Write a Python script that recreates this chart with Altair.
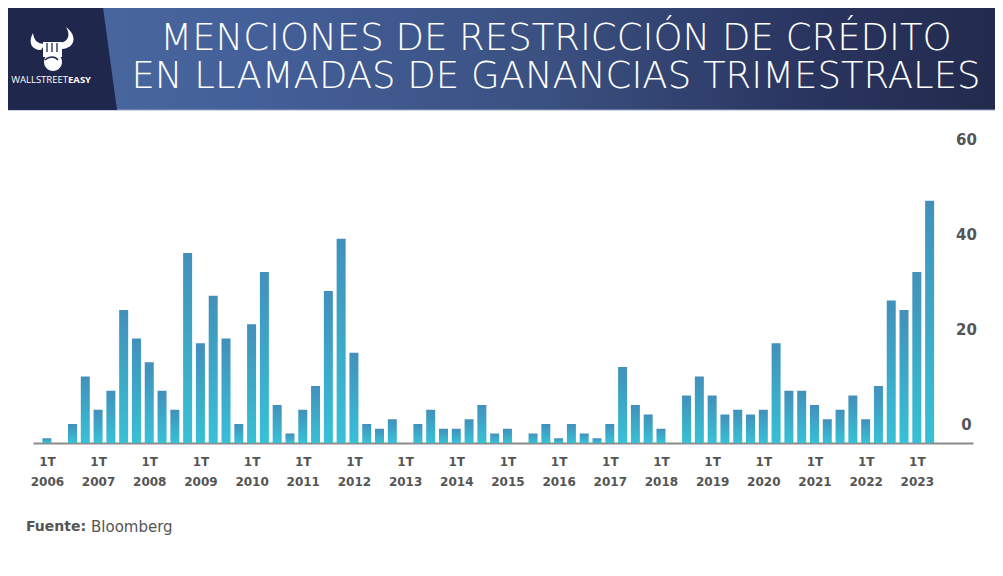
import altair as alt
import pandas as pd

# ---- data ----
years = list(range(2006, 2024))
quarters = ["1T", "2T", "3T", "4T"]
mentions = [
    1, 0, 4, 14,      # 2006
    7, 11, 28, 22,    # 2007
    17, 11, 7, 40,    # 2008
    21, 31, 22, 4,    # 2009
    25, 36, 8, 2,     # 2010
    7, 12, 32, 43,    # 2011
    19, 4, 3, 5,      # 2012
    0, 4, 7, 3,       # 2013
    3, 5, 8, 2,       # 2014
    3, 0, 2, 4,       # 2015
    1, 4, 2, 1,       # 2016
    4, 16, 8, 6,      # 2017
    3, 0, 10, 14,     # 2018
    10, 6, 7, 6,      # 2019
    7, 21, 11, 11,    # 2020
    8, 5, 7, 10,      # 2021
    5, 12, 30, 28,    # 2022
    36, 51,           # 2023
]
y_ticks = [0, 20, 40, 60]
title_lines = ["MENCIONES DE RESTRICCIÓN DE CRÉDITO",
               "EN LLAMADAS DE GANANCIAS TRIMESTRALES"]

rows = []
i = 0
for yr in years:
    for qi, q in enumerate(quarters):
        if i < len(mentions):
            rows.append({"t": yr + qi / 4.0, "year": yr, "q": q, "v": mentions[i]})
            i += 1
df = pd.DataFrame(rows)
one = pd.DataFrame({"a": [0]})

W, H = 940, 285
PADL, PADT = 25, 150

def px(x):  # original-page x -> plot x
    return x - 8 - PADL

def py(y):  # original-page y -> plot y
    return y - 8 - PADT

bar_grad = alt.Gradient(
    gradient="linear",
    stops=[alt.GradientStop(color="#4290bb", offset=0),
           alt.GradientStop(color="#37c1d6", offset=1)],
    x1=0, x2=0, y1=0, y2=1)

bars = alt.Chart(df).transform_filter("datum.v > 0").mark_bar(size=9, color=bar_grad).encode(
    x=alt.X("t:Q",
            scale=alt.Scale(domain=[2005.826, 2024.0], nice=False, zero=False),
            axis=alt.Axis(values=years, title=None, grid=False, ticks=False, tickSize=0,
                          labelExpr="['1T', format(datum.value, 'd')]",
                          labelFont="DejaVu Sans", labelFontWeight="bold", labelFontSize=12,
                          labelColor="#555555", labelLineHeight=20, labelPadding=13,
                          labelBaseline="top", labelFlush=False, labelOverlap=False,
                          domainColor="#8c8c8c", domainWidth=2)),
    y=alt.Y("v:Q",
            scale=alt.Scale(domain=[0, 60], nice=False),
            axis=alt.Axis(orient="right", values=y_ticks, title=None, grid=False,
                          ticks=False, tickSize=0, domain=False,
                          labelFont="DejaVu Sans", labelFontWeight="bold", labelFontSize=15,
                          labelColor="#555555", labelAlign="center", labelPadding=-7,
                          labelOffset=-19, labelFlush=False)),
)

banner_grad = alt.Gradient(
    gradient="linear",
    stops=[alt.GradientStop(color="#4b6aa0", offset=0.0),
           alt.GradientStop(color="#44609a", offset=0.25),
           alt.GradientStop(color="#3a5080", offset=0.55),
           alt.GradientStop(color="#2a3560", offset=0.8),
           alt.GradientStop(color="#222a4c", offset=1.0)],
    x1=0, x2=1, y1=0, y2=0)

banner = alt.Chart(one).mark_rect(color=banner_grad).encode(
    x=alt.value(px(0)), x2=alt.value(px(1003)),
    y=alt.value(py(0)), y2=alt.value(py(110)))

banner_line = alt.Chart(one).mark_rule(color="#9aa8c4", strokeWidth=1).encode(
    x=alt.value(px(0)), x2=alt.value(px(1003)), y=alt.value(py(110)))

def shape_layer(path, color):
    return alt.Chart(one).mark_point(shape=path, size=4, filled=True, opacity=1,
                                     color=color, strokeWidth=0).encode(
        x=alt.value(px(0)), y=alt.value(py(0)))

dark_block = shape_layer("M0,0 L102,0 L117,110 L0,110 Z", "#1f284c")
horn_l = shape_layer("M41,50 C31,50 28,42 33,33 C34,40 37,44 45,44 Z", "#ffffff")
horn_r = shape_layer("M62,49 C75,48 78,36 66,27 C71,35 68,42 60,43 Z", "#ffffff")
fist = shape_layer("M43,42 L62,42 L62,57 L43,57 Z", "#ffffff")
fist_c = shape_layer("M44,62 A9,9 0 1,0 62,62 A9,9 0 1,0 44,62 Z", "#ffffff")
fist_lines = alt.Chart(one).mark_point(
    shape="M47,43 L47,52 M52,43 L52,52 M57,43 L57,52 M45,60 C49,56 55,56 58,60",
    size=4, filled=False, opacity=1, color="#1f284c", strokeWidth=1.3).encode(
    x=alt.value(px(0)), y=alt.value(py(0)))

logo_t1 = alt.Chart(one).mark_text(text="WALLSTREET", font="Open Sans", fontSize=9.5,
                                   color="white", align="right", baseline="middle").encode(
    x=alt.value(px(68)), y=alt.value(py(80)))
logo_t2 = alt.Chart(one).mark_text(text="EASY", font="Open Sans", fontSize=9.5, fontWeight="bold",
                                   color="white", align="left", baseline="middle").encode(
    x=alt.value(px(68)), y=alt.value(py(80)))

title = alt.Chart(one).mark_text(text=title_lines, font="DejaVu Sans", fontSize=37,
                                 fontWeight=200, lineHeight=38, color="white",
                                 align="center", baseline="middle").encode(
    x=alt.value(px(556)), y=alt.value(py(39)))

src1 = alt.Chart(one).mark_text(text="Fuente:", font="DejaVu Sans", fontSize=14,
                                fontWeight="bold", color="#555555", align="left",
                                baseline="middle").encode(
    x=alt.value(px(26)), y=alt.value(py(527)))
src2 = alt.Chart(one).mark_text(text="Bloomberg", font="DejaVu Sans", fontSize=15,
                                color="#555555", align="left", baseline="middle").encode(
    x=alt.value(px(91)), y=alt.value(py(527)))

chart = alt.layer(
    banner, banner_line, dark_block, horn_l, horn_r, fist, fist_c, fist_lines,
    logo_t1, logo_t2, title, bars, src1, src2
).properties(
    width=W, height=H,
    autosize=alt.AutoSizeParams(type="none"),
    padding={"left": PADL, "top": PADT, "right": 22, "bottom": 125},
    background="white",
).configure_view(stroke=None)

chart.save("out.html", embed_options={"renderer": "svg", "actions": False})
